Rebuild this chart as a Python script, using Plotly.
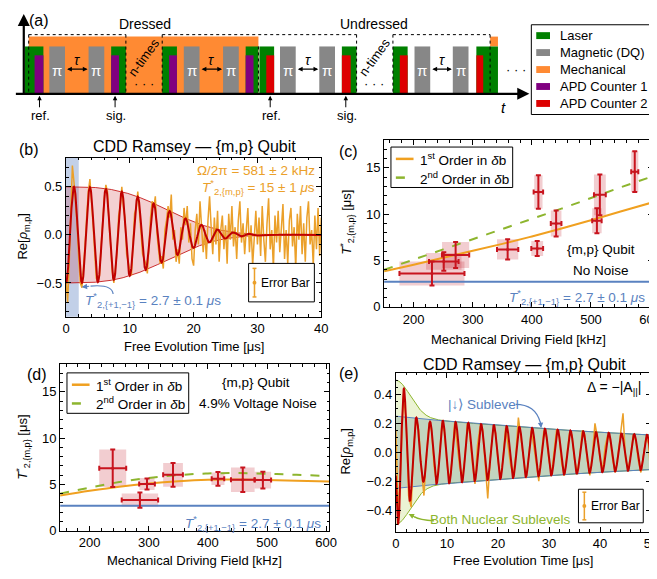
import numpy as np
import plotly.graph_objects as go

W, H = 657, 579
FONT = "Liberation Sans, Arial, sans-serif"

# ---------------- colours ----------------
C_LASER, C_MW, C_MECH, C_APD1, C_APD2 = "#008000", "#878787", "#FF8A33", "#800080", "#DD0000"
C_DATA = "#EBA02A"
C_FIT = "#C00000"
C_BLUE = "#5A82C0"
C_GREEN = "#8DB52E"
C_ERR = "#C8141E"

# ---------------- (a) pulse sequence (schematic time positions) ----------------
mech_blocks = [(17, 251)]
mech_small = [(487, 495)]
laser_blocks = [(13, 32), (101, 116), (153, 168), (238, 251), (252, 267), (336, 351), (388, 403), (473, 495)]
mw_blocks = [(38, 54), (78, 94), (175, 191), (215, 231), (273, 289), (313, 329), (410, 426), (449, 465)]
apd1_blocks = [(23, 32), (101, 109), (160, 168), (238, 246)]
apd2_blocks = [(259, 267), (336, 345), (395, 403), (473, 480)]
group_boxes = [(17, 116), (153, 351), (388, 487)]
group_labels = [("Dressed", 135), ("Undressed", 369)]
ntimes_pos = [134, 369]
ref_sig_marks = [(28, "ref."), (105, "sig."), (263, "ref."), (340, "sig.")]
legend_a = [("Laser", C_LASER), ("Magnetic (DQ)", C_MW), ("Mechanical", C_MECH),
            ("APD Counter 1", C_APD1), ("APD Counter 2", C_APD2)]

# ---------------- (b) CDD Ramsey, dressed {m,p} qubit ----------------
B_STEP = 0.25
b_re_data = [
    -0.45, -0.70, -0.30, 0.20, 0.72, 0.55, 0.35, 0.10, -0.25, -0.50,
    -0.55, -0.35, -0.10, 0.20, 0.45, 0.58, 0.38, 0.10, -0.18, -0.45,
    -0.48, -0.42, -0.12, 0.18, 0.38, 0.52, 0.45, 0.12, -0.20, -0.38,
    -0.50, -0.30, -0.18, 0.20, 0.30, 0.50, 0.28, 0.18, -0.20, -0.28,
    -0.38, -0.42, -0.05, 0.22, 0.28, 0.45, 0.25, 0.05, -0.20, -0.25,
    -0.30, -0.40, -0.05, 0.18, 0.35, 0.28, 0.40, 0.02, -0.15, -0.30,
    -0.22, -0.35, 0.05, 0.15, 0.30, 0.18, 0.42, -0.05, 0.05, -0.28,
    -0.15, -0.30, 0.08, -0.05, 0.28, 0.10, 0.30, -0.08, 0.12, -0.25,
    -0.32, 0.05, 0.22, -0.10, 0.35, 0.12, -0.18, 0.05, -0.25, 0.15,
    0.40, 0.08, -0.20, 0.18, -0.10, 0.25, -0.28, 0.05, 0.20, -0.15,
    0.10, -0.30, 0.22, -0.05, 0.30, -0.12, 0.08, -0.25, 0.15, 0.35,
    -0.08, 0.12, -0.20, 0.05, 0.28, -0.18, 0.10, -0.32, 0.02, 0.25,
    -0.10, 0.18, -0.22, 0.30, -0.05, -0.28, 0.12, 0.38, -0.15, 0.05,
    -0.35, 0.20, -0.08, 0.25, -0.18, 0.10, 0.32, -0.25, 0.05, -0.30,
    0.15, 0.28, -0.12, 0.08, -0.35, 0.22, -0.05, 0.30, -0.20, 0.12,
    -0.28, 0.18, 0.35, -0.10, 0.05, -0.32, 0.20, -0.15, 0.28, -0.22,
    0.18]
B_FIT_AMP, B_FIT_PERIOD, B_FIT_TAU, B_FIT_POW = 0.5, 2.5, 18.3, 3
B_DQ_BAND = (0.0, 2.0)

# ---------------- (c) T2* vs driving field, no noise ----------------
c_field = [231, 251, 271, 359, 409, 411, 441, 510, 515, 574]
c_t2 = [3.6, 4.9, 5.6, 6.2, 6.3, 12.4, 9.0, 9.3, 12.1, 14.6]
c_xerr = [55, 25, 23, 18, 10, 8, 9, 8, 10, 6]
c_yerr = [1.3, 1.0, 1.4, 1.1, 0.8, 1.8, 1.4, 1.35, 2.2, 2.2]
c_box_dx = [55, 30, 23, 18, 10, 7, 9, 8, 10, 6]
c_box_dy = [1.3, 0.9, 1.4, 1.1, 0.8, 1.8, 1.4, 1.35, 2.2, 2.2]
curve_field = [150, 200, 250, 300, 350, 400, 450, 500, 550, 605]
c_first = [3.85, 4.55, 5.3, 6.05, 6.8, 7.6, 8.45, 9.35, 10.3, 11.3]
c_second = [4.0, 5.1, 6.2, 7.3, 8.4, 9.5, 10.6, 11.75, 12.9, 14.1]
T2_DQ = 2.7

# ---------------- (d) T2* vs driving field, 4.9% voltage noise ----------------
d_field = [239, 285, 297, 341, 417, 459, 493]
d_t2 = [6.74, 3.3, 5.04, 6.03, 5.6, 5.5, 5.46]
d_xerr = [22.8, 30.8, 13.3, 16.7, 10.6, 20, 13.9]
d_yerr = [2.02, 0.83, 0.59, 1.28, 0.74, 1.33, 0.9]
d_box_dx = [22.8, 30.8, 12.8, 16.7, 11, 20, 13.9]
d_box_dy = [2.02, 0.71, 0.64, 1.28, 0.67, 1.33, 0.9]
d_first = [3.8, 4.3, 4.75, 5.1, 5.35, 5.5, 5.52, 5.47, 5.4, 5.3]
d_second = [4.0, 4.65, 5.25, 5.7, 6.0, 6.18, 6.22, 6.15, 6.03, 5.9]

# ---------------- (e) CDD Ramsey, Delta = -|A| ----------------
E_STEP = 0.5
e_re_data = [
    0.15, -0.47, -0.05, 0.40, 0.22, -0.30, -0.38, 0.05, 0.22, 0.15,
    -0.12, -0.30, -0.02, 0.20, 0.15, -0.10, -0.22, -0.05, 0.20, 0.14,
    -0.08, -0.20, -0.06, 0.20, 0.06, -0.10, -0.18, -0.05, 0.20, 0.12,
    -0.08, -0.22, 0.05, 0.18, 0.16, -0.10, -0.32, -0.04, 0.15, 0.14,
    -0.06, -0.18, -0.05, 0.17, 0.03, -0.09, -0.16, -0.02, 0.24, 0.10,
    -0.06, -0.18, -0.04, 0.15, 0.05, -0.08, -0.20, -0.02, 0.15, 0.10,
    -0.06, -0.15, 0.03, 0.16, 0.10, -0.08, -0.16, 0.00, 0.13, 0.12,
    -0.05, -0.14, -0.04, 0.15, 0.12, -0.06, -0.16, -0.02, 0.20, 0.10,
    -0.05, -0.12, 0.04, 0.12, 0.08, -0.06, -0.14, -0.02, 0.12, 0.27,
    -0.05, -0.12, -0.02, 0.12, 0.08, -0.06, -0.14, -0.02, 0.10, 0.06,
    -0.21]
E_SLOW_AMP, E_SLOW_TAU, E_SLOW_PERIOD = 0.25, 68.0, 2.5
E_FAST_AMP, E_FAST_TAU, E_FAST_PERIOD = 0.25, 4.0, 2.1
E_T0 = 0.45

# =====================================================================
def X(px):
    return px / W


def Y(py):
    return 1 - py / H


shapes, ann = [], []


def text(x, y, s, size=13, color="black", xanchor="center", yanchor="middle", angle=0):
    ann.append(dict(x=X(x), y=Y(y), xref="paper", yref="paper", text=s, showarrow=False,
                    font=dict(family=FONT, size=size, color=color), xanchor=xanchor,
                    yanchor=yanchor, textangle=angle))


def arrow(x0, y0, x1, y1, color="black", width=1.2, head=2, size=1.0, side="end"):
    ann.append(dict(x=X(x1), y=Y(y1), xref="paper", yref="paper", ax=x0 - x1, ay=y0 - y1,
                    axref="pixel", ayref="pixel", text="", showarrow=True, arrowhead=head,
                    startarrowhead=head, arrowsize=size, startarrowsize=size, arrowwidth=width,
                    arrowcolor=color, arrowside=side))


def rect(x0, y0, x1, y1, fill, line=None):
    shapes.append(dict(type="rect", xref="paper", yref="paper", x0=X(x0), x1=X(x1), y0=Y(y1),
                       y1=Y(y0), fillcolor=fill, line=line or dict(width=0), layer="above"))


def seg(x0, y0, x1, y1, color="black", width=1, dash="solid"):
    shapes.append(dict(type="line", xref="paper", yref="paper", x0=X(x0), y0=Y(y0), x1=X(x1),
                       y1=Y(y1), line=dict(color=color, width=width, dash=dash), layer="above"))


def curve(x0, y0, cx, cy, x1, y1, color, width=1.2):
    shapes.append(dict(type="path", xref="paper", yref="paper",
                       path=f"M {X(x0)} {Y(y0)} Q {X(cx)} {Y(cy)} {X(x1)} {Y(y1)}",
                       line=dict(color=color, width=width), layer="above"))


# ---------------- panel (a) ----------------
BASE, TOP_TALL, TOP_MID, TOP_SHORT = 87, 29, 39, 48
for a0, a1 in mech_blocks:
    rect(a0, TOP_TALL, a1, BASE, C_MECH)
for a0, a1 in mech_small:
    rect(a0, TOP_TALL, a1, TOP_MID, C_MECH)
for a0, a1 in laser_blocks:
    rect(a0, TOP_MID, a1, BASE, C_LASER)
for a0, a1 in mw_blocks:
    rect(a0, TOP_MID, a1, BASE, C_MW)
    text((a0 + a1) / 2, 63, "π", size=15, color="white")
for a0, a1 in apd1_blocks:
    rect(a0, TOP_SHORT, a1, BASE, C_APD1)
for a0, a1 in apd2_blocks:
    rect(a0, TOP_SHORT, a1, BASE, C_APD2)
for i in range(0, len(mw_blocks), 2):
    l, r = mw_blocks[i][1], mw_blocks[i + 1][0]
    arrow(l + 1, 62, r - 1, 62, width=1.2, head=2, size=0.8, side="end+start")
    text((l + r) / 2, 53, "<i>τ</i>", size=14)
for g0, g1 in group_boxes:
    seg(g0, 27, g1, 27, dash="dot")
    seg(g0, 27, g0, BASE, dash="dot")
    seg(g1, 27, g1, BASE, dash="dot")
seg(251, TOP_MID, 251, BASE, dash="dot")
for lbl, cx in group_labels:
    text(cx, 16, lbl, size=14)
for nx in ntimes_pos:
    text(nx, 50, "n-times", size=13, angle=-54)
    text(nx, 77, "· · ·", size=13)
text(513, 62, "· · ·", size=13)
for mx, lbl in ref_sig_marks:
    arrow(mx, 102, mx, 89, width=1, head=2, size=0.9)
    text(mx + 1, 109, lbl, size=13)
arrow(12, BASE, 527, BASE, width=2.2, head=2, size=1.1)
arrow(12, BASE + 1, 12, 6, width=2.2, head=2, size=1.1)
text(501, 101, "<i>t</i>", size=15)
text(28, 13, "(a)", size=16)
rect(529, 17, 655, 108, "rgba(0,0,0,0)", line=dict(color="black", width=1))
for i, (lbl, col) in enumerate(legend_a):
    yy = 28 + i * 17.2
    rect(534, yy - 3.5, 548, yy + 3.5, col)
    text(556, yy, lbl, size=13, xanchor="left")

# ---------------- figure ----------------
fig = go.Figure()

# (b)
tb = np.arange(len(b_re_data)) * B_STEP
tf = np.linspace(0, tb[-1], 2001)
b_env = B_FIT_AMP * np.exp(-(tf / B_FIT_TAU) ** B_FIT_POW)
b_fit = -b_env * np.cos(2 * np.pi * tf / B_FIT_PERIOD)
fig.add_trace(go.Scatter(x=tf, y=b_env, mode="lines", line=dict(color=C_FIT, width=0.8), xaxis="x", yaxis="y"))
fig.add_trace(go.Scatter(x=tf, y=-b_env, mode="lines", line=dict(color=C_FIT, width=0.8), fill="tonexty",
                         fillcolor="rgba(200,40,50,0.22)", xaxis="x", yaxis="y"))
fig.add_trace(go.Scatter(x=tb, y=b_re_data, mode="lines", line=dict(color=C_DATA, width=1.5), xaxis="x", yaxis="y"))
fig.add_trace(go.Scatter(x=tf, y=b_fit, mode="lines", line=dict(color=C_FIT, width=2), xaxis="x", yaxis="y"))
shapes.append(dict(type="rect", xref="x", yref="y domain", x0=B_DQ_BAND[0], x1=B_DQ_BAND[1], y0=0, y1=1,
                   fillcolor="rgba(120,150,205,0.45)", line=dict(width=0), layer="below"))


def field_panel(xa, ya, fx, ty, xe, ye, bdx, bdy, first, second):
    for x0, y0, dx, dy in zip(fx, ty, bdx, bdy):
        shapes.append(dict(type="rect", xref=xa, yref=ya, x0=x0 - dx, x1=x0 + dx, y0=y0 - dy, y1=y0 + dy,
                           fillcolor="rgba(205,60,75,0.26)", line=dict(width=0), layer="below"))
    fig.add_trace(go.Scatter(x=[curve_field[0], curve_field[-1]], y=[T2_DQ, T2_DQ], mode="lines",
                             line=dict(color=C_BLUE, width=2), xaxis=xa, yaxis=ya))
    fig.add_trace(go.Scatter(x=curve_field, y=first, mode="lines", line=dict(color="#F0A020", width=2, shape="spline"),
                             xaxis=xa, yaxis=ya))
    fig.add_trace(go.Scatter(x=curve_field, y=second, mode="lines",
                             line=dict(color=C_GREEN, width=2, dash="dash", shape="spline"), xaxis=xa, yaxis=ya))
    fig.add_trace(go.Scatter(x=fx, y=ty, mode="markers", marker=dict(color=C_ERR, size=3),
                             error_x=dict(type="data", array=xe, color=C_ERR, thickness=2, width=2.5),
                             error_y=dict(type="data", array=ye, color=C_ERR, thickness=2, width=2.5),
                             xaxis=xa, yaxis=ya))


field_panel("x2", "y2", c_field, c_t2, c_xerr, c_yerr, c_box_dx, c_box_dy, c_first, c_second)
field_panel("x3", "y3", d_field, d_t2, d_xerr, d_yerr, d_box_dx, d_box_dy, d_first, d_second)

# (e)
te = np.arange(len(e_re_data)) * E_STEP
tf2 = np.linspace(0, te[-1], 2001)
slow_env = E_SLOW_AMP * np.exp(-tf2 / E_SLOW_TAU)
fast_env = E_FAST_AMP * np.exp(-(tf2 / E_FAST_TAU) ** 2)
e_fit = (-slow_env * np.cos(2 * np.pi * (tf2 - E_T0) / E_SLOW_PERIOD)
         - fast_env * np.cos(2 * np.pi * (tf2 - E_T0) / E_FAST_PERIOD))
fig.add_trace(go.Scatter(x=tf2, y=slow_env + fast_env, mode="lines", line=dict(color=C_GREEN, width=1), xaxis="x4", yaxis="y4"))
fig.add_trace(go.Scatter(x=tf2, y=-(slow_env + fast_env), mode="lines", line=dict(color=C_GREEN, width=1), fill="tonexty",
                         fillcolor="rgba(190,215,110,0.3)", xaxis="x4", yaxis="y4"))
fig.add_trace(go.Scatter(x=tf2, y=slow_env, mode="lines", line=dict(color=C_BLUE, width=1), xaxis="x4", yaxis="y4"))
fig.add_trace(go.Scatter(x=tf2, y=-slow_env, mode="lines", line=dict(color=C_BLUE, width=1), fill="tonexty",
                         fillcolor="rgba(70,120,130,0.25)", xaxis="x4", yaxis="y4"))
fig.add_trace(go.Scatter(x=te, y=e_re_data, mode="lines", line=dict(color=C_DATA, width=1.5), xaxis="x4", yaxis="y4"))
fig.add_trace(go.Scatter(x=tf2, y=e_fit, mode="lines", line=dict(color=C_FIT, width=2), xaxis="x4", yaxis="y4"))


def axstyle(domain, rng, dtick, minor_dtick, anchor, **kw):
    d = dict(domain=domain, range=rng, dtick=dtick, tick0=0, anchor=anchor, showline=True, linecolor="black",
             linewidth=1.2, mirror="allticks", ticks="inside", ticklen=5, tickwidth=1, tickcolor="black",
             showgrid=False, zeroline=False, tickfont=dict(family=FONT, size=13, color="black"),
             minor=dict(ticks="inside", ticklen=2.5, tickcolor="black", dtick=minor_dtick, showgrid=False))
    d.update(kw)
    return d


def dx(a, b):
    return [a / W, b / W]


def dy(a, b):
    return [1 - b / H, 1 - a / H]


fig.update_layout(
    width=W, height=H, margin=dict(l=0, r=0, t=0, b=0), showlegend=False,
    paper_bgcolor="white", plot_bgcolor="white", font=dict(family=FONT, size=13, color="black"),
    xaxis=axstyle(dx(55, 315), [0, 40], 10, 2, "y"),
    yaxis=axstyle(dy(152, 313), [-0.85, 0.8], 0.5, 0.1, "x", tickformat=".1f"),
    xaxis2=axstyle(dx(379, 653), [150, 605], 100, 20, "y2"),
    yaxis2=axstyle(dy(134, 303), [0, 18], 5, 1, "x2"),
    xaxis3=axstyle(dx(49, 323), [150, 605], 100, 20, "y3"),
    yaxis3=axstyle(dy(361, 530), [0, 18], 5, 1, "x3"),
    xaxis4=axstyle(dx(391, 651), [0, 50], 10, 2, "y4"),
    yaxis4=axstyle(dy(370, 531), [-0.55, 0.55], 0.2, 0.05, "x4", tickformat=".1f"),
)

# ---------------- panel texts ----------------
TITLE = "CDD Ramsey — {m,p} Qubit"
T2MP = "<i>T</i><sup>*</sup><sub>2,{m,p}</sub>"
T2DQ = "<i>T</i><sup>*</sup><sub>2,{+1,−1}</sub>"
RE = "Re[<i>ρ</i><sub>m,p</sub>]"

# (b)
text(17, 143, "(b)", size=16)
text(186, 140, TITLE, size=16)
text(12, 232, RE, size=13, angle=-90)
text(185, 343, "Free Evolution Time [μs]", size=13)
text(311, 165, "Ω/2π = 581 ± 2 kHz", size=13.5, color=C_DATA, xanchor="right")
text(311, 182, T2MP + " = 15 ± 1 <i>μ</i>s", size=13.5, color=C_DATA, xanchor="right")
text(72, 296, T2DQ + " = 2.7 ± 0.1 <i>μ</i>s", size=13.5, color=C_BLUE, xanchor="left")
curve(103, 290, 102, 280, 80, 282, C_BLUE)
arrow(80, 282, 71, 283, color=C_BLUE, width=1.2, head=2, size=0.9)
rect(241, 259, 308, 298, "white", line=dict(color="black", width=1))

# (c)
text(343, 146, "(c)", size=16)
text(341, 217, T2MP + " [μs]", size=13, angle=-90)
text(516, 336, "Mechanical Driving Field [kHz]", size=13)
text(600, 245, "{m,p} Qubit", size=13.5)
text(600, 266, "No Noise", size=13.5)
text(647, 293, T2DQ + " = 2.7 ± 0.1 <i>μ</i>s", size=13.5, color=C_BLUE, xanchor="right")

# (d)
text(25, 372, "(d)", size=16)
text(11, 445, T2MP + " [μs]", size=13, angle=-90)
text(186, 560, "Mechanical Driving Field [kHz]", size=13)
text(249, 380, "{m,p} Qubit", size=13.5)
text(251, 401, "4.9% Voltage Noise", size=13.5)
text(317, 522, T2DQ + " = 2.7 ± 0.1 <i>μ</i>s", size=13.5, color=C_BLUE, xanchor="right")

# (e)
text(343, 371, "(e)", size=16)
text(522, 361, TITLE, size=16)
text(341, 450, RE, size=13, angle=-90)
text(521, 560, "Free Evolution Time [μs]", size=13)
text(643, 385, "Δ = −|A<sub>||</sub>|", size=14, xanchor="right")
text(480, 402, "|↓⟩ Sublevel", size=13.5, color=C_BLUE)
curve(513, 402, 533, 402, 538, 420, C_BLUE)
arrow(538, 418, 539, 426, color=C_BLUE, width=1.2, head=2, size=0.9)
text(498, 519, "Both Nuclear Sublevels", size=13.5, color=C_GREEN)
curve(430, 520, 415, 519, 410, 516, C_GREEN)
arrow(412, 517, 404, 513, color=C_GREEN, width=1.2, head=2, size=0.9)
rect(577, 488, 643, 522, "white", line=dict(color="black", width=1))

# (c)/(d) legends
for bx, by in [(386, 141), (56, 370)]:
    rect(bx, by, bx + 124, by + 41, "white", line=dict(color="black", width=1))
    seg(bx + 5, by + 12, bx + 23, by + 12, color="#F0A020", width=2.5)
    seg(bx + 5, by + 31, bx + 23, by + 31, color=C_GREEN, width=2.5, dash="dash")
    text(bx + 28, by + 12, "1<sup>st</sup> Order in <i>δ</i>b", size=13.5, xanchor="left")
    text(bx + 28, by + 31, "2<sup>nd</sup> Order in <i>δ</i>b", size=13.5, xanchor="left")

# error-bar glyphs inside the (b) and (e) legend boxes
for gx, gy0, gy1, tx in [(247, 264, 293, 252), (583, 491, 519, 588)]:
    seg(gx, gy0, gx, gy1, color=C_DATA, width=1.5)
    seg(gx - 2, gy0, gx + 2, gy0, color=C_DATA, width=1.5)
    seg(gx - 2, gy1, gx + 2, gy1, color=C_DATA, width=1.5)
    shapes.append(dict(type="circle", xref="paper", yref="paper", x0=X(gx - 2), x1=X(gx + 2),
                       y0=Y((gy0 + gy1) / 2 + 2), y1=Y((gy0 + gy1) / 2 - 2), fillcolor=C_DATA,
                       line=dict(width=0), layer="above"))
    text(tx, (gy0 + gy1) / 2, "Error Bar", size=12, xanchor="left")

fig.update_layout(shapes=shapes, annotations=ann)
fig.write_html("out.html")
